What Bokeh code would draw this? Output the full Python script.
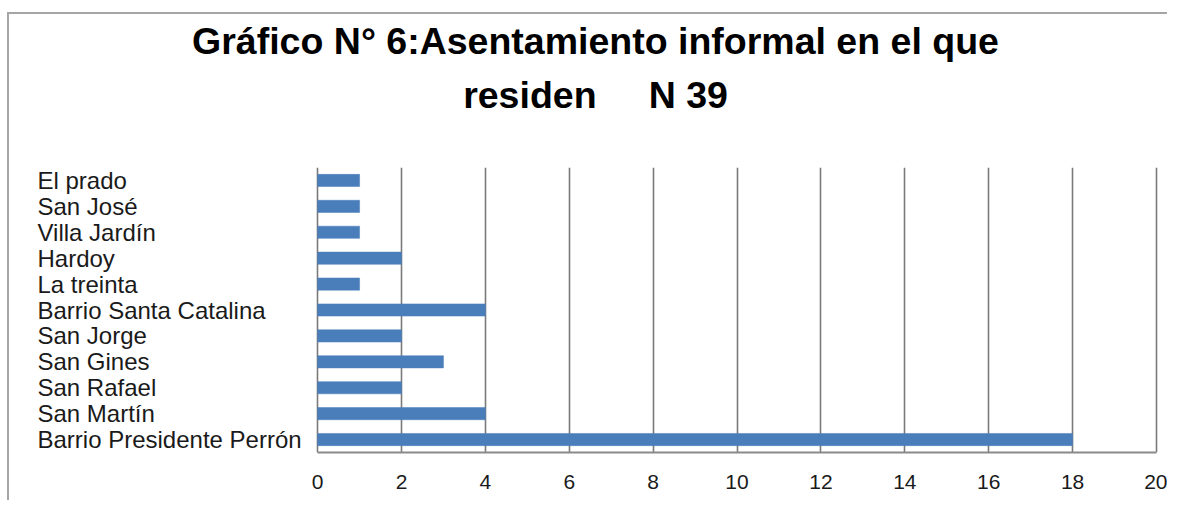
from bokeh.plotting import figure
from bokeh.models import Range1d, FactorRange, FixedTicker, Title, ColumnDataSource
from bokeh.core.properties import value
from bokeh.embed import file_html
from bokeh.resources import INLINE

categories = ["El prado", "San José", "Villa Jardín", "Hardoy", "La treinta",
              "Barrio Santa Catalina", "San Jorge", "San Gines", "San Rafael",
              "San Martín", "Barrio Presidente Perrón"]
counts = [1, 1, 1, 2, 1, 4, 2, 3, 2, 4, 18]
x_ticks = [0, 2, 4, 6, 8, 10, 12, 14, 16, 18, 20]
title_line1 = "Gráfico N° 6:Asentamiento informal en el que"
title_line2 = "residen\u00a0\u00a0\u00a0\u00a0 N 39"

FONT = "Liberation Sans"
X_START = -6.87
X_END = 20.12

y_factors = list(reversed(categories))
src = ColumnDataSource(dict(cat=categories, n=counts,
                            lx=[X_START + 0.19] * len(categories)))

p = figure(width=1160, height=488, output_backend="svg", toolbar_location=None,
           x_range=Range1d(X_START, X_END),
           y_range=FactorRange(factors=y_factors, range_padding=0),
           min_border_left=20, min_border_right=8, min_border_bottom=50,
           outline_line_color=None, background_fill_color="white",
           border_fill_color="white")
p.styles = {"border-top": "2px solid #a6a6a6", "border-left": "2px solid #a6a6a6",
            "margin-top": "12px", "margin-left": "7px"}

p.hbar(y="cat", right="n", left=0, height=0.47, source=src,
       fill_color="#4a7ebb", line_color="#4a7ebb", line_width=0.5)

p.text(x="lx", y="cat", text="cat", source=src, text_align="left",
       text_baseline="middle", text_font=value(FONT), text_font_size="24px",
       text_color="#1a1a1a")

p.yaxis.visible = False
p.ygrid.visible = False
p.xgrid.ticker = FixedTicker(ticks=x_ticks)
p.xgrid.grid_line_color = "#7a7a7a"
p.xgrid.grid_line_width = 1.6

xa = p.xaxis[0]
xa.ticker = FixedTicker(ticks=x_ticks)
xa.bounds = (0, 20)
xa.axis_line_color = "#8a8a8a"
xa.axis_line_width = 2
xa.major_tick_line_color = None
xa.minor_tick_line_color = None
xa.major_label_standoff = 16
xa.major_label_text_font = FONT
xa.major_label_text_font_size = "21px"
xa.major_label_text_color = "#1a1a1a"

# spacer between the title and the bars
p.add_layout(Title(text=" ", text_font_size="10px", standoff=32), "above")
p.add_layout(Title(text=title_line2, align="center", text_font=FONT,
                   text_font_size="37.5px", text_font_style="bold",
                   text_color="black", standoff=14), "above")
p.add_layout(Title(text=title_line1, align="center", text_font=FONT,
                   text_font_size="37.5px", text_font_style="bold",
                   text_color="black", standoff=6), "above")
p.min_border_top = 0

open("out.html", "w").write(file_html(p, INLINE))
